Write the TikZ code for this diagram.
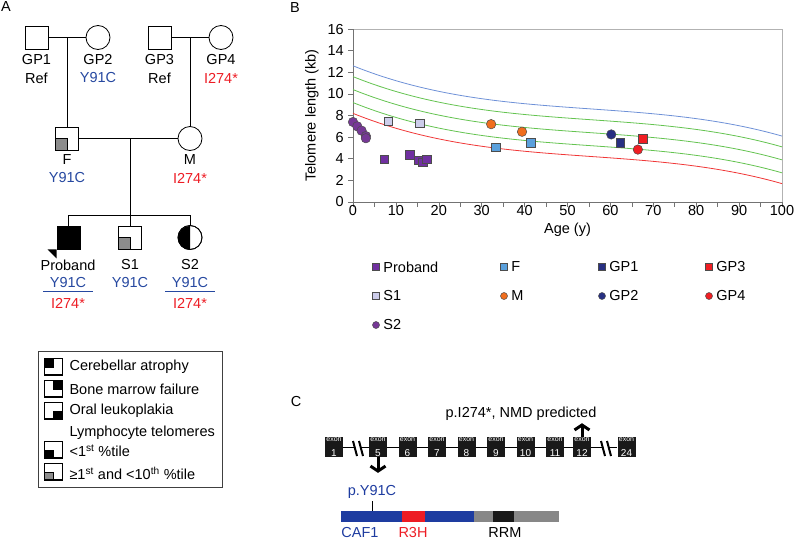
\documentclass[tikz,border=0pt]{standalone}
\usepackage{fontspec}
\setmainfont{Liberation Sans}
\usetikzlibrary{
    arrows.meta,                      % Straight Barb
    backgrounds                       % gene backbone behind the exons
}
\definecolor{varblue}{RGB}{38,72,160}
\definecolor{varred}{RGB}{237,28,36}
\definecolor{curveblue}{RGB}{110,145,215}
\definecolor{curvegreen}{RGB}{100,195,80}
\definecolor{curvered}{RGB}{240,55,55}
\definecolor{probandcol}{RGB}{112,48,160}
\definecolor{sistercol}{RGB}{118,56,150}
\definecolor{fathercol}{RGB}{90,160,220}
\definecolor{brothercol}{RGB}{205,205,235}
\definecolor{mothercol}{RGB}{240,110,30}
\definecolor{gpnavy}{RGB}{40,48,130}
\definecolor{gpred}{RGB}{240,30,35}
\definecolor{protblue}{RGB}{30,60,160}
\definecolor{protgray}{RGB}{135,135,135}
\tikzset{
    male/.style={
        rectangle, draw, line width=0.8pt,
        minimum size=23pt, inner sep=0pt
    },
    female/.style={
        circle, draw, line width=0.8pt,
        minimum size=24pt, inner sep=0pt
    },
    pedline/.style={
        line width=0.8pt
    },
    sqmark/.style={
        rectangle, draw=black!70, line width=0.5pt,
        minimum size=8.5pt, inner sep=0pt
    },
    dotmark/.style={
        circle, draw=black!70, line width=0.5pt,
        minimum size=9.5pt, inner sep=0pt
    },
    keymark/.style={
        minimum size=7pt
    },
    exon/.style={
        rectangle, fill=black!90, text=white,
        minimum width=18pt, minimum height=18pt,
        inner sep=0pt, align=center
    },
    hit/.style={
        -{Straight Barb[length=5pt,width=15pt]}, line width=3pt
    },
    axisgray/.style={
        draw=black!55, line width=0.6pt
    }
}
\newcommand{\exontxt}[1]{{\fontsize{7}{7}\selectfont exon}\\[-1.5pt]{\fontsize{10}{10}\selectfont #1}}

\begin{document}
\begin{tikzpicture}[x=1pt, y=-1pt, font=\fontsize{14.5}{17}\selectfont]
    \useasboundingbox (0,0) rectangle (800,541);

    % ---------------- A: pedigree
    \node (labA) at (6,7) {A};
    \node[male]   (gp1) at (36.5,37.5) {};
    \node[female] (gp2) at (98,37.5)   {};
    \node[male]   (gp3) at (159.5,37.5) {};
    \node[female] (gp4) at (221,37.5)  {};
    \node[male]   (f)   at (67,138.5)  {};
    \node[female] (m)   at (190,138.5) {};
    \node[male, fill=black] (pb) at (68.5,237.5) {};
    \node[male]   (s1)  at (130,237.5) {};
    \node[female] (s2)  at (190,237.5) {};

    % affection marks
    \fill[black!45] (f.south west) rectangle (f.center);
    \draw[pedline] (f.south west) rectangle (f.center);
    \fill[black!45] (s1.south west) rectangle (s1.center);
    \draw[pedline] (s1.south west) rectangle (s1.center);
    \fill (s2.south) arc[start angle=90, end angle=270, radius=12] -- cycle;
    \node[female] at (s2) {};
    \fill (pb.south west) -- ++(-9,0) -- ++(9,9) -- cycle;

    % lines of descent
    \coordinate (gp12) at (67,37.5);
    \coordinate (gp34) at (190,37.5);
    \coordinate (fm)   at (130,138.5);
    \coordinate (sib)  at (130,215);
    \draw[pedline] (gp1) -- (gp2);
    \draw[pedline] (gp3) -- (gp4);
    \draw[pedline] (gp12) -- (f);
    \draw[pedline] (gp34) -- (m);
    \draw[pedline] (f) -- (m);
    \draw[pedline] (fm) -- (sib);
    \draw[pedline] (pb.north |- sib) -- (s2.north |- sib);
    \foreach \kid in {pb,s1,s2}
        \draw[pedline] (\kid.north |- sib) -- (\kid.north);

    % names and genotypes
    \node (gp1n) at (36.5,60) {GP1};
    \node (gp1g) at (36.5,78) {Ref};
    \node (gp2n) at (98,60)   {GP2};
    \node[text=varblue] (gp2g) at (98,78) {Y91C};
    \node (gp3n) at (159.5,60) {GP3};
    \node (gp3g) at (159.5,78) {Ref};
    \node (gp4n) at (221,60)  {GP4};
    \node[text=varred] (gp4g) at (221,78) {I274*};
    \node (fn) at (67,160) {F};
    \node[text=varblue] (fg) at (67,178) {Y91C};
    \node (mn) at (190,160) {M};
    \node[text=varred] (mg) at (190,178) {I274*};
    \node (pbn) at (68,265) {Proband};
    \node[text=varblue] (pbg1) at (68,283) {Y91C};
    \node[text=varred]  (pbg2) at (68,303) {I274*};
    \node (s1n) at (130,265) {S1};
    \node[text=varblue] (s1g) at (130,283) {Y91C};
    \node (s2n) at (190,265) {S2};
    \node[text=varblue] (s2g1) at (190,283) {Y91C};
    \node[text=varred]  (s2g2) at (190,303) {I274*};
    \draw[varblue, line width=0.7pt] ([xshift=-3pt]pbg1.south west) -- ([xshift=3pt]pbg1.south east);
    \draw[varblue, line width=0.7pt] ([xshift=-3pt]s2g1.south west) -- ([xshift=3pt]s2g1.south east);

    % key
    \draw[black!75, line width=0.8pt] (38,351) rectangle (222,487);
    \foreach \yy/\qx/\qy/\qc in {367/0/0/black, 389/1/0/black, 411/1/1/black,
                                 450/0/1/black, 472/0/1/black!45} {
        \fill[\qc] (44+9*\qx,\yy-8.5+8.5*\qy) rectangle ++(9,8.5);
        \draw[line width=0.6pt] (44+9*\qx,\yy-8.5+8.5*\qy) rectangle ++(9,8.5);
        \draw[line width=0.8pt] (44,\yy-8.5) rectangle ++(18,17);
        \draw[line width=1.4pt] (44.5,\yy-8.5) -- (44.5,\yy+8) -- (62,\yy+8);
    }
    \node[anchor=west] (k1) at (66,367) {Cerebellar atrophy};
    \node[anchor=west] (k2) at (66,389) {Bone marrow failure};
    \node[anchor=west] (k3) at (66,411) {Oral leukoplakia};
    \node[anchor=west] (k4) at (66,433) {Lymphocyte telomeres};
    \node[anchor=west] (k5) at (66,451) {<1\textsuperscript{st} \%tile};
    \node[anchor=west] (k6) at (66,473) {≥1\textsuperscript{st} and <10\textsuperscript{th} \%tile};

    % ---------------- B: telomere length
    \node (labB) at (295,8) {B};
    \begin{scope}[shift={(353,202)}, x=4.29pt, y=10.81pt]
        \draw[black!30, line width=0.6pt] (0,0) rectangle (100,16);
        \draw[axisgray] (0,16) -- (0,0) -- (100,0);
        \foreach \v in {0,2,...,16} {
            \draw[axisgray] (0,\v) -- ++(-5pt,0);
            \node[anchor=east, inner sep=1pt] at ([xshift=-8pt]0,\v) {\v};
        }
        \foreach \a in {0,5,...,100}
            \draw[axisgray] (\a,0) -- ++(0,-5pt);
        \foreach \a in {0,10,...,100}
            \node[anchor=north, inner sep=1pt] at ([yshift=-2pt]\a,0) {\a};
        \node (agelbl) at (50,-2.6) {Age (y)};
        \node[rotate=90] (tllbl) at (-9.6,8) {Telomere length (kb)};

        % percentile curves, 1st to 99th
        \foreach \off/\col in {0/curvered, 1/curvegreen, 2.2/curvegreen, 3.4/curvegreen, 4.4/curveblue}
            \draw[\col, line width=0.8pt] plot[domain=0:100, samples=60, smooth]
                (\x, {\off + 8.2 - 16*(\x/100) + 23.82*(\x/100)^2 - 14.32*(\x/100)^3});

        % measurements
        \foreach \a/\v in {0/7.4, 1/7.0, 2/6.6, 3/6.1, 3/5.9}
            \node[dotmark, fill=sistercol] at (\a,\v) {};
        \foreach \a/\v in {7.3/3.95, 13.2/4.35, 15.3/3.85, 16.3/3.7, 17.2/3.95}
            \node[sqmark, fill=probandcol] at (\a,\v) {};
        \foreach \a/\v in {8.2/7.45, 15.5/7.3}
            \node[sqmark, fill=brothercol] at (\a,\v) {};
        \foreach \a/\v in {32.2/7.2, 39.4/6.5}
            \node[dotmark, fill=mothercol] at (\a,\v) {};
        \foreach \a/\v in {33.3/5.05, 41.4/5.5}
            \node[sqmark, fill=fathercol] at (\a,\v) {};
        \node[dotmark, fill=gpnavy] (pgp2) at (60.2,6.25) {};
        \node[sqmark, fill=gpnavy]  (pgp1) at (62.3,5.5) {};
        \node[dotmark, fill=gpred]  (pgp4) at (66.4,4.85) {};
        \node[sqmark, fill=gpred]   (pgp3) at (67.5,5.85) {};
    \end{scope}

    % legend of B
    \foreach \mx/\my/\shp/\col/\who in {
            376/267/sqmark/probandcol/Proband, 504/267/sqmark/fathercol/F,
            602/267/sqmark/gpnavy/GP1, 709/267/sqmark/gpred/GP3,
            376/296/sqmark/brothercol/S1, 504/296/dotmark/mothercol/M,
            602/296/dotmark/gpnavy/GP2, 709/296/dotmark/gpred/GP4,
            376/325/dotmark/sistercol/S2} {
        \node[\shp, keymark, fill=\col] (key\who) at (\mx,\my) {};
        \node[anchor=west, inner sep=1pt] at ([xshift=2.5pt]key\who.east) {\who};
    }

    % ---------------- C: gene and protein
    \node (labC) at (296,402) {C};
    \node[exon] (e1) at (334,447) {\exontxt{1}};
    \foreach \n [count=\i from 0] in {5,...,11}
        \node[exon] (e\n) at (378+29.5*\i,447) {\exontxt{\n}};
    \node[exon] (e12) at (582,447) {\exontxt{12}};
    \node[exon] (e24) at (626.5,447) {\exontxt{24}};
    \begin{scope}[on background layer]
        \draw[line width=1pt] (e1) -- (e24);
    \end{scope}
    % breaks in the backbone
    \foreach \bx in {353,601} {
        \fill[white] (\bx+1,441) -- (\bx+6,441) -- (\bx+9,456) -- (\bx+4,456) -- cycle;
        \draw[line width=2pt] (\bx,441) -- (\bx+4,456);
        \draw[line width=2pt] (\bx+6,441) -- (\bx+10,456);
    }
    \draw[hit] (e5.south) -- ++(0,16);
    \draw[hit] (e12.north) -- ++(0,-14);
    \node (nmd) at (521,414) {p.I274*, NMD predicted};

    % protein
    \fill[protblue] (341,511) rectangle (402,522);
    \fill[varred]   (402,511) rectangle (425,522);
    \fill[protblue] (425,511) rectangle (474,522);
    \fill[protgray] (474,511) rectangle (493,522);
    \fill[black!90] (493,511) rectangle (514,522);
    \fill[protgray] (514,511) rectangle (559,522);
    \node[text=protblue] (y91c) at (372,492) {p.Y91C};
    \coordinate (y91pos) at (372,511);
    \draw[line width=0.6pt] ([yshift=1pt]y91c.south) -- (y91pos);
    \node[text=protblue] (caf) at (360,533) {CAF1};
    \node[text=varred]   (r3h) at (413,533) {R3H};
    \node (rrm) at (505,533) {RRM};
\end{tikzpicture}
\end{document}
